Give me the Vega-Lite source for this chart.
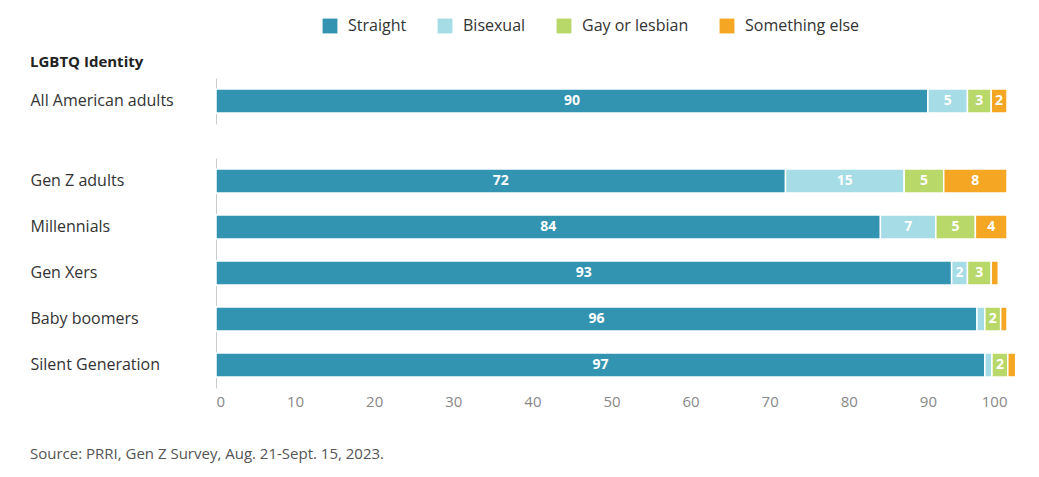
{
  "$schema": "https://vega.github.io/schema/vega-lite/v6.json",
  "background": "white",
  "padding": {"left": 30, "top": 18, "right": 20, "bottom": 10},
  "data": {
    "values": [
      {"group": "All American adults", "cat": "Straight", "ord": 1, "value": 90},
      {"group": "All American adults", "cat": "Bisexual", "ord": 2, "value": 5},
      {"group": "All American adults", "cat": "Gay or lesbian", "ord": 3, "value": 3},
      {"group": "All American adults", "cat": "Something else", "ord": 4, "value": 2},
      {"group": "Gen Z adults", "cat": "Straight", "ord": 1, "value": 72},
      {"group": "Gen Z adults", "cat": "Bisexual", "ord": 2, "value": 15},
      {"group": "Gen Z adults", "cat": "Gay or lesbian", "ord": 3, "value": 5},
      {"group": "Gen Z adults", "cat": "Something else", "ord": 4, "value": 8},
      {"group": "Millennials", "cat": "Straight", "ord": 1, "value": 84},
      {"group": "Millennials", "cat": "Bisexual", "ord": 2, "value": 7},
      {"group": "Millennials", "cat": "Gay or lesbian", "ord": 3, "value": 5},
      {"group": "Millennials", "cat": "Something else", "ord": 4, "value": 4},
      {"group": "Gen Xers", "cat": "Straight", "ord": 1, "value": 93},
      {"group": "Gen Xers", "cat": "Bisexual", "ord": 2, "value": 2},
      {"group": "Gen Xers", "cat": "Gay or lesbian", "ord": 3, "value": 3},
      {"group": "Gen Xers", "cat": "Something else", "ord": 4, "value": 0.9},
      {"group": "Baby boomers", "cat": "Straight", "ord": 1, "value": 96.2},
      {"group": "Baby boomers", "cat": "Bisexual", "ord": 2, "value": 1},
      {"group": "Baby boomers", "cat": "Gay or lesbian", "ord": 3, "value": 2},
      {"group": "Baby boomers", "cat": "Something else", "ord": 4, "value": 0.8},
      {"group": "Silent Generation", "cat": "Straight", "ord": 1, "value": 97.2},
      {"group": "Silent Generation", "cat": "Bisexual", "ord": 2, "value": 0.9},
      {"group": "Silent Generation", "cat": "Gay or lesbian", "ord": 3, "value": 2},
      {"group": "Silent Generation", "cat": "Something else", "ord": 4, "value": 1}
    ]
  },
  "transform": [
    {"stack": "value", "groupby": ["group"], "sort": [{"field": "ord"}], "as": ["x0", "x1"]},
    {"calculate": "(datum.x0 + datum.x1) / 2", "as": "mid"},
    {"calculate": "datum.value >= 2 ? format(datum.value, '.0f') : ''", "as": "label"}
  ],
  "title": {
    "text": "Source: PRRI, Gen Z Survey, Aug. 21-Sept. 15, 2023.",
    "orient": "bottom", "anchor": "start", "frame": "bounds",
    "font": "Open Sans", "fontSize": 15, "fontWeight": "normal", "color": "#555", "offset": 38
  },
  "spacing": 34,
  "vconcat": [
    {
      "width": 791,
      "height": 46,
      "title": {"text": "LGBTQ Identity", "anchor": "start", "frame": "bounds", "font": "Open Sans", "fontSize": 15, "fontWeight": "bold", "color": "#222", "offset": 8},
      "transform": [{"filter": "datum.group == 'All American adults'"}],
      "encoding": {
        "y": {"field": "group", "type": "nominal", "title": null,
          "axis": {"labelAlign": "left", "labelPadding": 186, "ticks": false, "domainColor": "#ccc", "labelFont": "Open Sans", "labelFontSize": 16, "labelColor": "#333"}}
      },
      "layer": [
        {
          "mark": {"type": "bar", "height": 24, "stroke": "white", "strokeWidth": 1.5},
          "encoding": {
            "x": {"field": "x0", "type": "quantitative", "scale": {"domain": [0, 100]}, "axis": null},
            "x2": {"field": "x1"},
            "color": {"field": "cat", "type": "nominal",
              "scale": {"domain": ["Straight", "Bisexual", "Gay or lesbian", "Something else"], "range": ["#3294b0", "#a5dce6", "#b8d86a", "#f5a623"]},
              "legend": {"orient": "none", "direction": "horizontal", "legendX": 106, "legendY": -60, "title": null, "symbolType": "square", "symbolSize": 220, "symbolStrokeWidth": 0, "labelFont": "Open Sans", "labelFontSize": 16, "labelColor": "#333", "columnPadding": 30, "labelOffset": 10}}
          }
        },
        {
          "mark": {"type": "text", "color": "white", "font": "Open Sans", "fontWeight": "bold", "fontSize": 14},
          "encoding": {
            "x": {"field": "mid", "type": "quantitative", "scale": {"domain": [0, 100]}},
            "text": {"field": "label"}
          }
        }
      ]
    },
    {
      "width": 791,
      "height": 230,
      "transform": [{"filter": "datum.group != 'All American adults'"}],
      "encoding": {
        "y": {"field": "group", "type": "nominal", "title": null,
          "sort": ["Gen Z adults", "Millennials", "Gen Xers", "Baby boomers", "Silent Generation"],
          "axis": {"labelAlign": "left", "labelPadding": 186, "ticks": false, "domainColor": "#ccc", "labelFont": "Open Sans", "labelFontSize": 16, "labelColor": "#333"}}
      },
      "layer": [
        {
          "mark": {"type": "bar", "height": 24, "stroke": "white", "strokeWidth": 1.5},
          "encoding": {
            "x": {"field": "x0", "type": "quantitative", "scale": {"domain": [0, 100]}, "title": null,
              "axis": {"values": [0, 10, 20, 30, 40, 50, 60, 70, 80, 90, 100], "grid": false, "ticks": false, "domain": false, "labelFont": "Open Sans", "labelFontSize": 15, "labelColor": "#888", "labelPadding": 6}},
            "x2": {"field": "x1"},
            "color": {"field": "cat", "type": "nominal", "legend": null,
              "scale": {"domain": ["Straight", "Bisexual", "Gay or lesbian", "Something else"], "range": ["#3294b0", "#a5dce6", "#b8d86a", "#f5a623"]}}
          }
        },
        {
          "mark": {"type": "text", "color": "white", "font": "Open Sans", "fontWeight": "bold", "fontSize": 14},
          "encoding": {
            "x": {"field": "mid", "type": "quantitative", "scale": {"domain": [0, 100]}},
            "text": {"field": "label"}
          }
        }
      ]
    }
  ],
  "config": {"view": {"stroke": null}}
}
